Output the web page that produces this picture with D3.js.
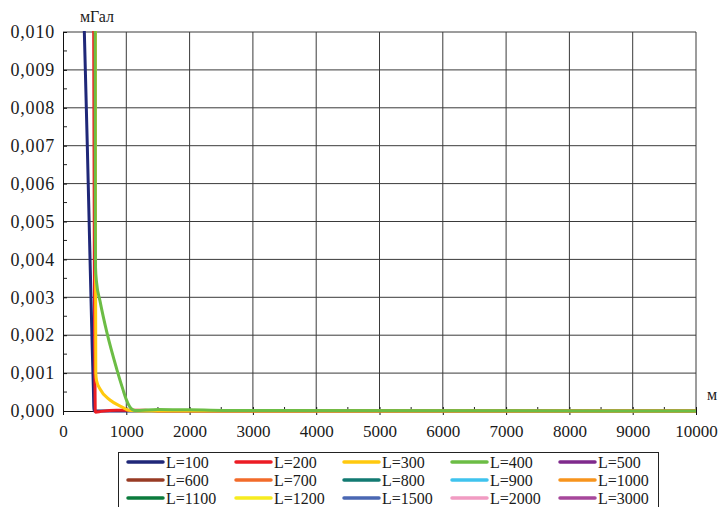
<!DOCTYPE html>
<html>
<head>
<meta charset="utf-8">
<script src="https://cdn.jsdelivr.net/npm/d3@7"></script>
<style>
  body { margin: 0; background: #fff; }
  svg text { font-family: "Liberation Serif", "Times New Roman", serif; fill: #1a1a1a; }
</style>
</head>
<body>
<div id="chart"></div>
<script>
// series names and colours, in legend order
var seriesNames = ["L=100", "L=200", "L=300", "L=400", "L=500",
                   "L=600", "L=700", "L=800", "L=900", "L=1000",
                   "L=1100", "L=1200", "L=1500", "L=2000", "L=3000"];
var seriesColors = ["#1f2778", "#ec1c24", "#ffc90e", "#6cbd45", "#7f2a8c",
                    "#983b24", "#f26b2a", "#127a72", "#3fc3ee", "#f7941d",
                    "#0b7b3c", "#f7ec1f", "#4a67b3", "#f19bc2", "#a6479b"];

// values (м -> мГал); series without a visible curve are empty
var x100 = [300, 337, 384, 420, 463, 480, 490, 1000, 10000];
var y100 = [0.0124, 0.0100, 0.0070, 0.0045, 0.0016, 0.0006, 0.0000, 0, 0];

var x200 = [478, 485, 495, 502, 506, 509, 515, 600, 850, 1300, 1500, 10000];
var y200 = [0.0120, 0.0100, 0.0040, 0.0012, 0.0006, 0.0000, -0.00003, -0.00001, 0.00002, 0.00002, 0, 0];

var x300 = [512, 514, 518, 530, 585, 742, 927, 1060, 1200, 10000];
var y300 = [0.0120, 0.0040, 0.0010, 0.0008, 0.00058, 0.00029, 0.00011, 0.00001, 0, 0];

var x400 = [508, 510, 513, 530, 585, 695, 850, 950, 1000, 1058, 1137, 1500, 2000, 3000, 10000];
var y400 = [0.0120, 0.0050, 0.0038, 0.0034, 0.0029, 0.00206, 0.00110, 0.00055, 0.0003, 0.0001, 0.00001, 0.00004, 0.00003, 0.00001, 0];

var seriesX = [x100, x200, x300, x400, [], [], [], [], [], [], [], [], [], [], []];
var seriesY = [y100, y200, y300, y400, [], [], [], [], [], [], [], [], [], [], []];

var xTicks = [0, 1000, 2000, 3000, 4000, 5000, 6000, 7000, 8000, 9000, 10000];
var yTicks = [0, 0.001, 0.002, 0.003, 0.004, 0.005, 0.006, 0.007, 0.008, 0.009, 0.010];

var W = 723, H = 507;
var pLeft = 63, pRight = 696, pTop = 32, pBottom = 411;

var svg = d3.select("#chart").append("svg")
  .attr("width", W)
  .attr("height", H);

var x = d3.scaleLinear().domain([0, 10000]).range([pLeft, pRight]);
var y = d3.scaleLinear().domain([0, 0.010]).range([pBottom, pTop]);

// grid
svg.append("g").selectAll("line")
  .data(xTicks.slice(1))
  .enter().append("line")
    .attr("x1", function(d){ return x(d) }).attr("x2", function(d){ return x(d) })
    .attr("y1", pTop).attr("y2", pBottom)
    .attr("stroke", "#3a3a3a").attr("stroke-width", 1);

svg.append("g").selectAll("line")
  .data(yTicks.slice(1))
  .enter().append("line")
    .attr("x1", pLeft).attr("x2", pRight)
    .attr("y1", function(d){ return y(d) }).attr("y2", function(d){ return y(d) })
    .attr("stroke", "#3a3a3a").attr("stroke-width", 1);

// minor ticks (inside)
var minorX = d3.range(500, 10000, 1000);
svg.append("g").selectAll("line")
  .data(minorX)
  .enter().append("line")
    .attr("x1", function(d){ return x(d) }).attr("x2", function(d){ return x(d) })
    .attr("y1", pBottom).attr("y2", pBottom - 4)
    .attr("stroke", "#222");

var minorY = d3.range(0.0005, 0.010, 0.001);
svg.append("g").selectAll("line")
  .data(minorY)
  .enter().append("line")
    .attr("x1", pLeft).attr("x2", pLeft + 4)
    .attr("y1", function(d){ return y(d) }).attr("y2", function(d){ return y(d) })
    .attr("stroke", "#222");

// axes
var fmt = function(d){ return d3.format(".3f")(d).replace(".", ",") };

var yAxis = svg.append("g")
  .attr("transform", "translate(" + pLeft + ",0)")
  .call(d3.axisLeft(y).tickValues(yTicks).tickFormat(fmt).tickSizeInner(5).tickSizeOuter(0).tickPadding(3));
yAxis.attr("font-family", null);
yAxis.selectAll("line").attr("stroke", "#111").attr("x2", 4);
yAxis.select(".domain").attr("stroke", "#111");
yAxis.selectAll("text").attr("font-size", 18).style("letter-spacing", "0.8px");

var xAxis = svg.append("g")
  .attr("transform", "translate(0," + pBottom + ")")
  .call(d3.axisBottom(x).tickValues(xTicks).tickFormat(d3.format("d")).tickSizeInner(4).tickSizeOuter(0).tickPadding(10));
xAxis.attr("font-family", null);
xAxis.selectAll("line").attr("stroke", "#111").attr("y1", -4);
xAxis.select(".domain").attr("stroke", "#111");
xAxis.selectAll("text").attr("font-size", 17);

// unit labels
svg.append("text").attr("x", 97).attr("y", 22).attr("text-anchor", "middle")
  .attr("font-size", 16).text("мГал");
svg.append("text").attr("x", 712).attr("y", 400).attr("text-anchor", "middle")
  .attr("font-size", 16).text("м");

// curves
svg.append("defs").append("clipPath").attr("id", "clip")
  .append("rect").attr("x", pLeft).attr("y", pTop - 1)
  .attr("width", pRight - pLeft + 2).attr("height", pBottom - pTop + 6);

var line = d3.line()
  .x(function(d){ return x(d[0]) })
  .y(function(d){ return y(d[1]) })
  .curve(d3.curveMonotoneX);

var curves = svg.append("g").attr("clip-path", "url(#clip)");
seriesNames.forEach(function(name, i){
  if (seriesX[i].length == 0) return;
  var pts = seriesX[i].map(function(v, j){ return [v, seriesY[i][j]] });
  curves.append("path")
    .datum(pts)
    .attr("fill", "none")
    .attr("stroke", seriesColors[i])
    .attr("stroke-width", 3)
    .attr("stroke-linejoin", "round")
    .attr("d", line);
});

// legend
var lg = svg.append("g");
lg.append("rect")
  .attr("x", 118.5).attr("y", 452.5)
  .attr("width", 540).attr("height", 70)
  .attr("fill", "#fff").attr("stroke", "#222").attr("stroke-width", 1);

var items = lg.selectAll("g.item")
  .data(seriesNames)
  .enter().append("g")
    .attr("transform", function(d, i){
      return "translate(" + (128 + (i % 5) * 108) + "," + (462 + Math.floor(i / 5) * 18) + ")";
    });

items.append("line")
  .attr("x1", 0).attr("x2", 35)
  .attr("stroke", function(d, i){ return seriesColors[i] })
  .attr("stroke-width", 3.5)
  .attr("stroke-linecap", "round");

items.append("text")
  .attr("x", 38).attr("y", 5.5)
  .attr("font-size", 16)
  .text(function(d){ return d });
</script>
</body>
</html>
